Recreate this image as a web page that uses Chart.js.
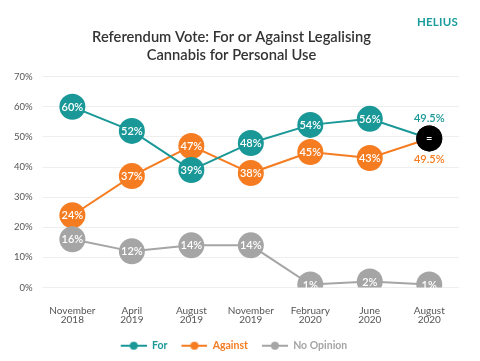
<!DOCTYPE html>
<html>
<head>
<meta charset="utf-8">
<script src="https://cdn.jsdelivr.net/npm/chart.js@4/dist/chart.umd.min.js"></script>
<style>
  html, body { margin: 0; padding: 0; background: #fff; }
  #wrap { position: relative; width: 480px; height: 361px; }
  #logo { position: absolute; left: 417px; top: 15px; color: #1a9c9c; font: bold 11.5px Lato, sans-serif; letter-spacing: 0.2px; }
</style>
</head>
<body>
<div id="wrap">
  <canvas id="chart" width="480" height="361"></canvas>
  <div id="logo">HELIUS</div>
</div>
<script>
var LABELS = [
  ['November', '2018'], ['April', '2019'], ['August', '2019'], ['November', '2019'],
  ['February', '2020'], ['June', '2020'], ['August', '2020'],
];
var FOR_VALUES = [60, 52, 39, 48, 54, 56, 49.5];
var AGAINST_VALUES = [24, 37, 47, 38, 45, 43, 49.5];
var NO_OPINION_VALUES = [16, 12, 14, 14, 1, 2, 1];

var TEAL = '#1a9898';
var ORANGE = '#f57c21';
var GREY = '#a5a5a5';
var FONT = 'Lato, sans-serif';

// index where For and Against are tied (drawn as a black "=" dot)
var tieIndex = -1;
for (var i = 0; i < FOR_VALUES.length; i++) {
  if (FOR_VALUES[i] === AGAINST_VALUES[i]) tieIndex = i;
}

function pointColors(color, markTie) {
  var out = [];
  for (var i = 0; i < LABELS.length; i++) out.push(markTie && i === tieIndex ? '#000' : color);
  return out;
}

// legend marker: line with a dot, a little blank on the left as extra item gap
function legendMarker(color) {
  var c = document.createElement('canvas');
  c.width = 31; c.height = 10;
  var g = c.getContext('2d');
  g.strokeStyle = color; g.lineWidth = 2;
  g.beginPath(); g.moveTo(5, 5); g.lineTo(31, 5); g.stroke();
  g.fillStyle = color;
  g.beginPath(); g.arc(18, 5, 4, 0, Math.PI * 2); g.fill();
  return c;
}

var valueLabels = {
  id: 'valueLabels',
  afterDatasetDraw: function (chart, args) {
    var ctx = chart.ctx;
    var ds = chart.data.datasets[args.index];
    ctx.save();
    ctx.font = '600 11px ' + FONT;
    ctx.textAlign = 'center';
    ctx.textBaseline = 'middle';
    args.meta.data.forEach(function (pt, j) {
      var v = ds.data[j];
      if (j === tieIndex && args.index < 2) {
        ctx.fillStyle = ds.borderColor;
        ctx.fillText(v + '%', pt.x, pt.y + (args.index === 0 ? -20 : 21));
        ctx.fillStyle = '#fff';
        ctx.fillText('=', pt.x, pt.y);
      } else {
        ctx.fillStyle = '#fff';
        ctx.fillText(v + '%', pt.x, pt.y + 0.5);
      }
    });
    ctx.restore();
  },
};

function series(label, data, color, order, markTie) {
  return {
    label: label,
    data: data,
    borderColor: color,
    backgroundColor: color,
    pointBackgroundColor: pointColors(color, markTie),
    pointBorderWidth: 0,
    pointRadius: 13,
    pointHoverRadius: 13,
    borderWidth: 2,
    tension: 0,
    order: order,
  };
}

new Chart(document.getElementById('chart'), {
  type: 'line',
  data: {
    labels: LABELS,
    datasets: [
      series('For', FOR_VALUES, TEAL, 1, true),
      series('Against', AGAINST_VALUES, ORANGE, 2, true),
      series('No Opinion', NO_OPINION_VALUES, GREY, 0, false),
    ],
  },
  plugins: [valueLabels],
  options: {
    responsive: false,
    animation: false,
    layout: { padding: { left: 4, right: 21, top: 0, bottom: 0 } },
    plugins: {
      title: {
        display: true,
        text: ['Referendum Vote: For or Against Legalising', 'Cannabis for Personal Use'],
        color: '#333',
        font: { family: FONT, size: 14.7, weight: '600', lineHeight: 1.18 },
        padding: { top: 29, bottom: 13 },
      },
      legend: {
        position: 'bottom',
        labels: {
          usePointStyle: true,
          pointStyleWidth: 31,
          padding: 9,
          font: { family: FONT, size: 10.5, weight: 'bold' },
          generateLabels: function (chart) {
            return chart.data.datasets.map(function (ds, i) {
              return {
                text: ds.label,
                fontColor: ds.borderColor,
                fillStyle: ds.borderColor,
                strokeStyle: ds.borderColor,
                lineWidth: 0,
                pointStyle: legendMarker(ds.borderColor),
                datasetIndex: i,
                hidden: false,
              };
            });
          },
        },
      },
      tooltip: { enabled: false },
    },
    scales: {
      x: {
        offset: true,
        grid: { display: false, drawTicks: false },
        border: { display: false },
        ticks: { color: '#555', padding: 19, maxRotation: 0, font: { family: FONT, size: 10, lineHeight: 0.9 } },
        afterFit: function (scale) { scale.height -= 12; },
      },
      y: {
        min: 0,
        max: 70,
        grid: { color: '#eeeeee', drawTicks: false },
        border: { display: false },
        ticks: {
          stepSize: 10,
          color: '#555',
          padding: 10,
          font: { family: FONT, size: 9.5 },
          callback: function (v) { return v + '%'; },
        },
      },
    },
  },
});
</script>
</body>
</html>
